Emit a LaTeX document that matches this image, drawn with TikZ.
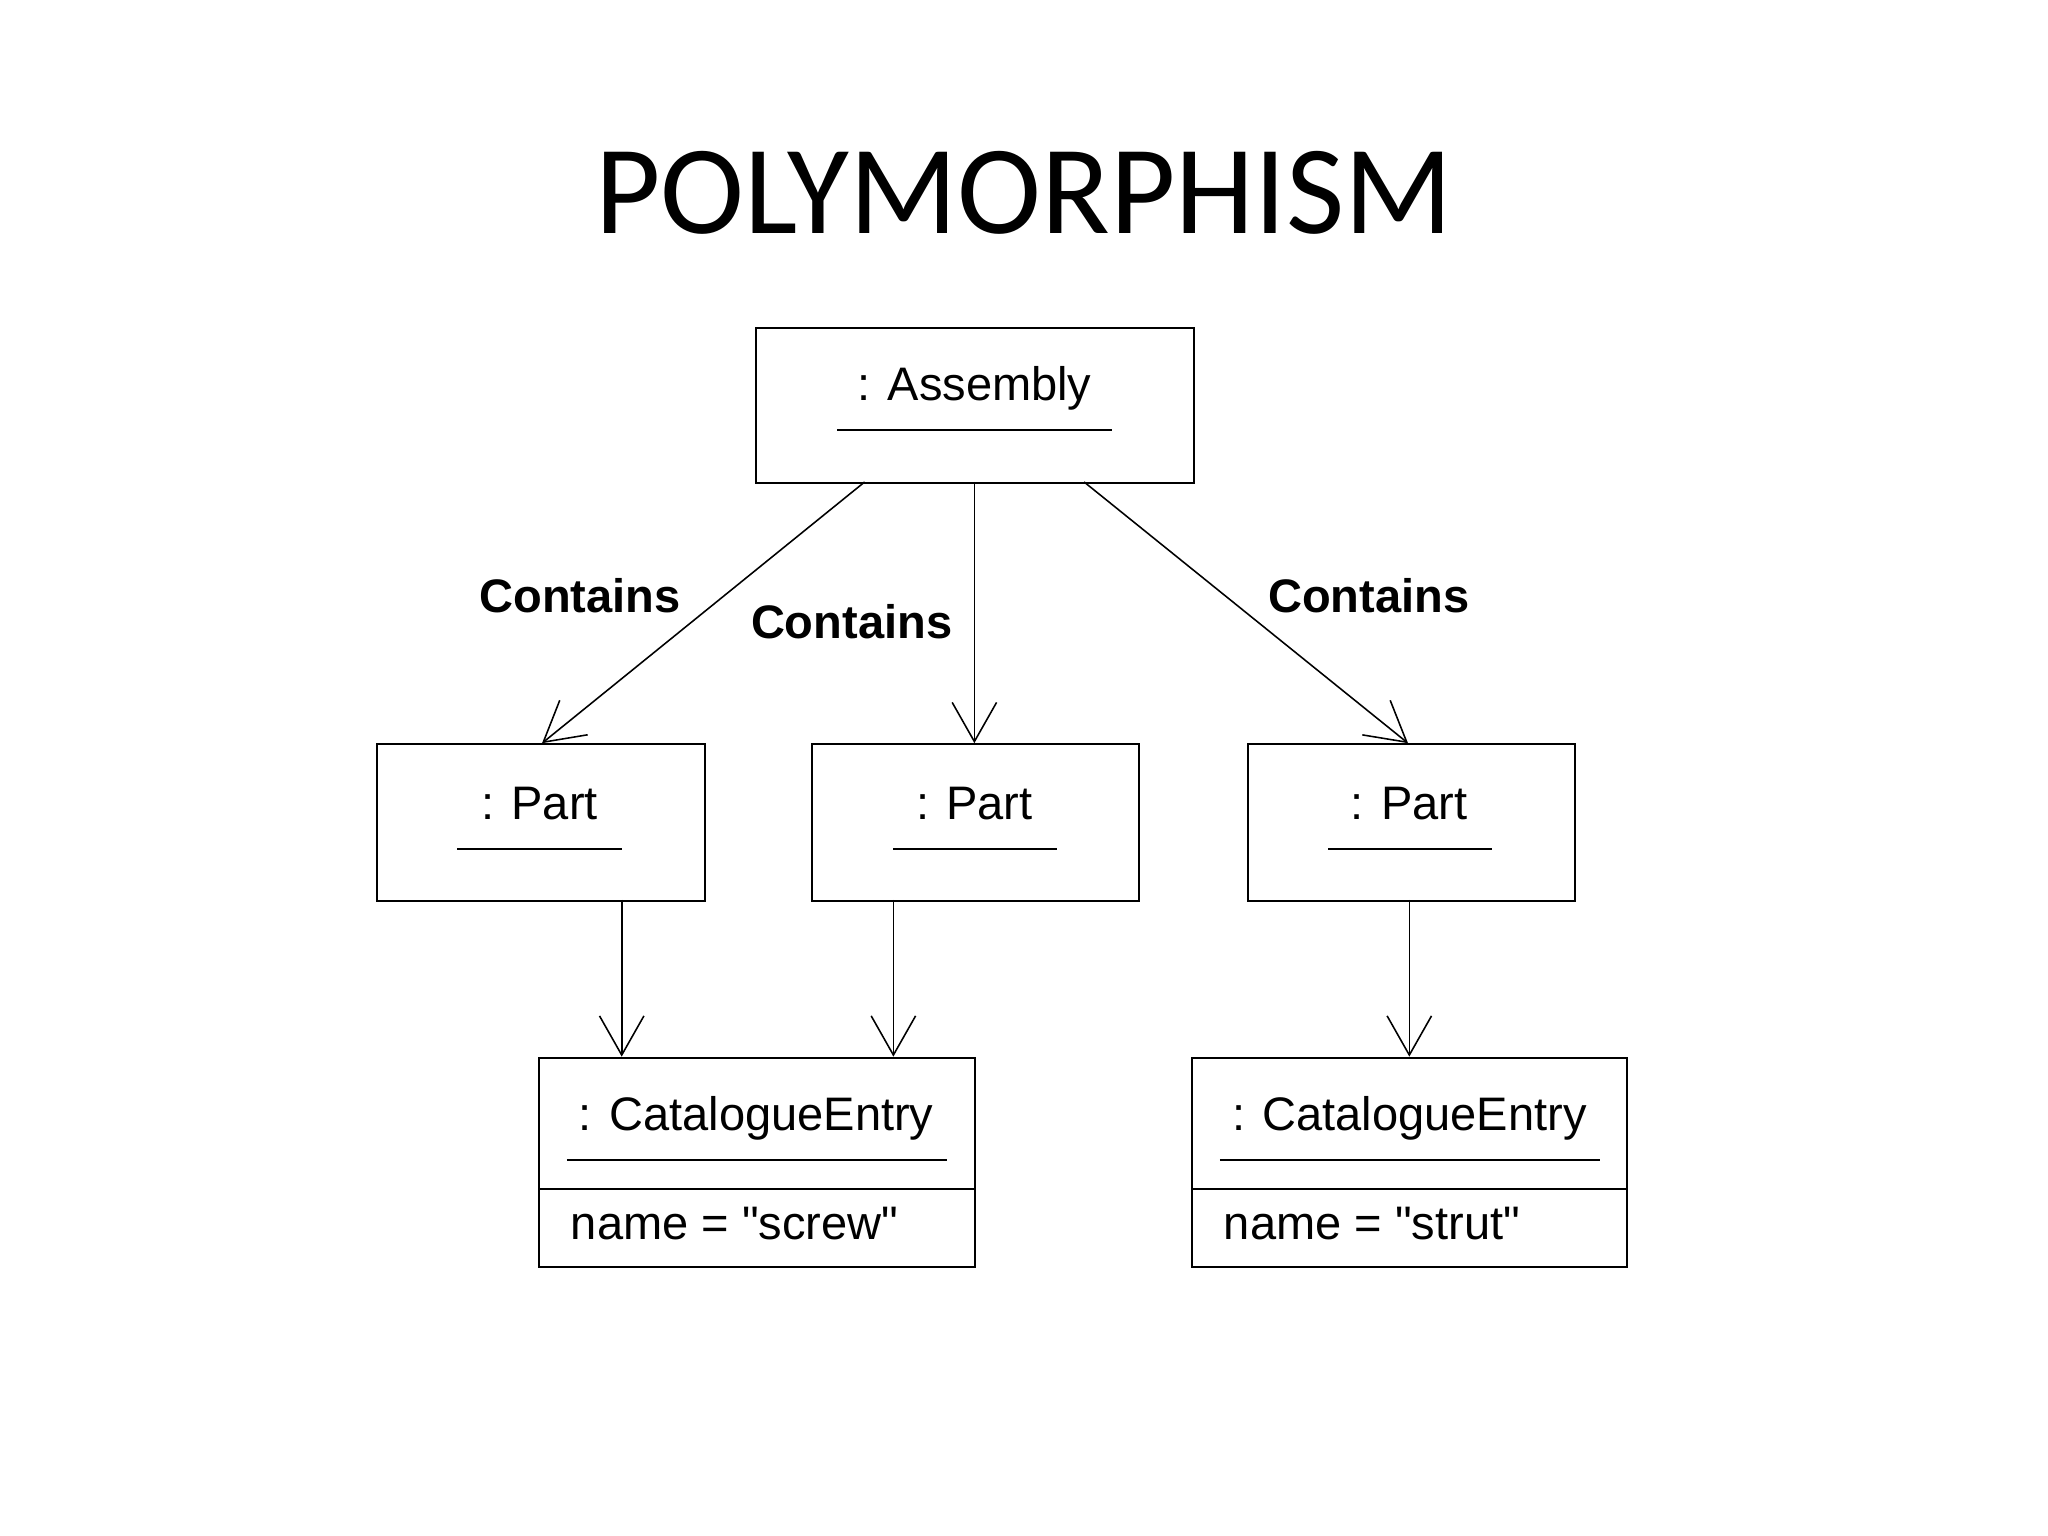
\documentclass[tikz,border=0pt]{standalone}
\usepackage{fontspec}
\setmainfont{Liberation Sans}
\newfontfamily\plainfont{Liberation Sans}[Mapping=]
\newfontfamily\titlefont{Carlito}
\usetikzlibrary{arrows.meta}
\begin{document}
\begin{tikzpicture}[x=0.5pt,y=-0.5pt,
  obj/.style={draw,line width=0.8pt,inner sep=0pt,anchor=north west},
  lbl/.style={font=\fontsize{18}{22}\selectfont\bfseries},
  nm/.style={font=\plainfont\fontsize{18}{22}\selectfont},
  ul/.style={line width=0.7pt},
  conn/.style={line width=0.6pt,-{Straight Barb[length=15pt,width=17pt,line width=0.6pt]}}]
\useasboundingbox (0,0) rectangle (1568,1176);
\node[font=\titlefont\fontsize{48.5}{58}\selectfont] (title) at (784,148) {POLYMORPHISM};
% boxes
\node[obj,minimum width=167.5pt,minimum height=59.5pt] (asm) at (578,250) {};
\node[obj,minimum width=125.5pt,minimum height=60pt] (p1) at (288,569) {};
\node[obj,minimum width=125pt,minimum height=60pt] (p2) at (621,569) {};
\node[obj,minimum width=125pt,minimum height=60pt] (p3) at (955,569) {};
\node[obj,minimum width=167pt,minimum height=80pt] (c1) at (412,809) {};
\node[obj,minimum width=166.5pt,minimum height=80pt] (c2) at (912,809) {};
\draw[line width=0.8pt] (412,910) -- (746,910) (912,910) -- (1245,910);
% texts
\node[nm] (t0) at (746,297) {: Assembly};
\draw[ul] (641,329) -- (851,329);
\node[nm] (t1) at (413,615) {: Part};
\node[nm] (t2) at (746,615) {: Part};
\node[nm] (t3) at (1079,615) {: Part};
\draw[ul] (350,650) -- (476,650) (684,650) -- (809,650) (1017,650) -- (1142,650);
\node[nm] (t4) at (579,856) {: CatalogueEntry};
\node[nm] (t5) at (1079,856) {: CatalogueEntry};
\draw[ul] (434,888) -- (725,888) (934,888) -- (1225,888);
\node[nm,anchor=west] (a1) at (430,937) {name = "screw"};
\node[nm,anchor=west] (a2) at (930,937) {name = "strut"};
% connectors
\coordinate (s1) at (662,369); \coordinate (e1) at (415,569);
\coordinate (s2) at (746,369); \coordinate (e2) at (746,569);
\coordinate (s3) at (830,369); \coordinate (e3) at (1078,569);
\draw[conn] (s1) -- (e1);
\draw[conn] (s2) -- (e2);
\draw[conn] (s3) -- (e3);
\coordinate (q1) at (476,689); \coordinate (r1) at (476,809);
\coordinate (q2) at (684,689); \coordinate (r2) at (684,809);
\coordinate (q3) at (1079,689); \coordinate (r3) at (1079,809);
\draw[conn] (q1) -- (r1);
\draw[conn] (q2) -- (r2);
\draw[conn] (q3) -- (r3);
\node[lbl] (l1) at (444,456) {Contains};
\node[lbl] (l2) at (652,476) {Contains};
\node[lbl] (l3) at (1048,456) {Contains};
\end{tikzpicture}
\end{document}
